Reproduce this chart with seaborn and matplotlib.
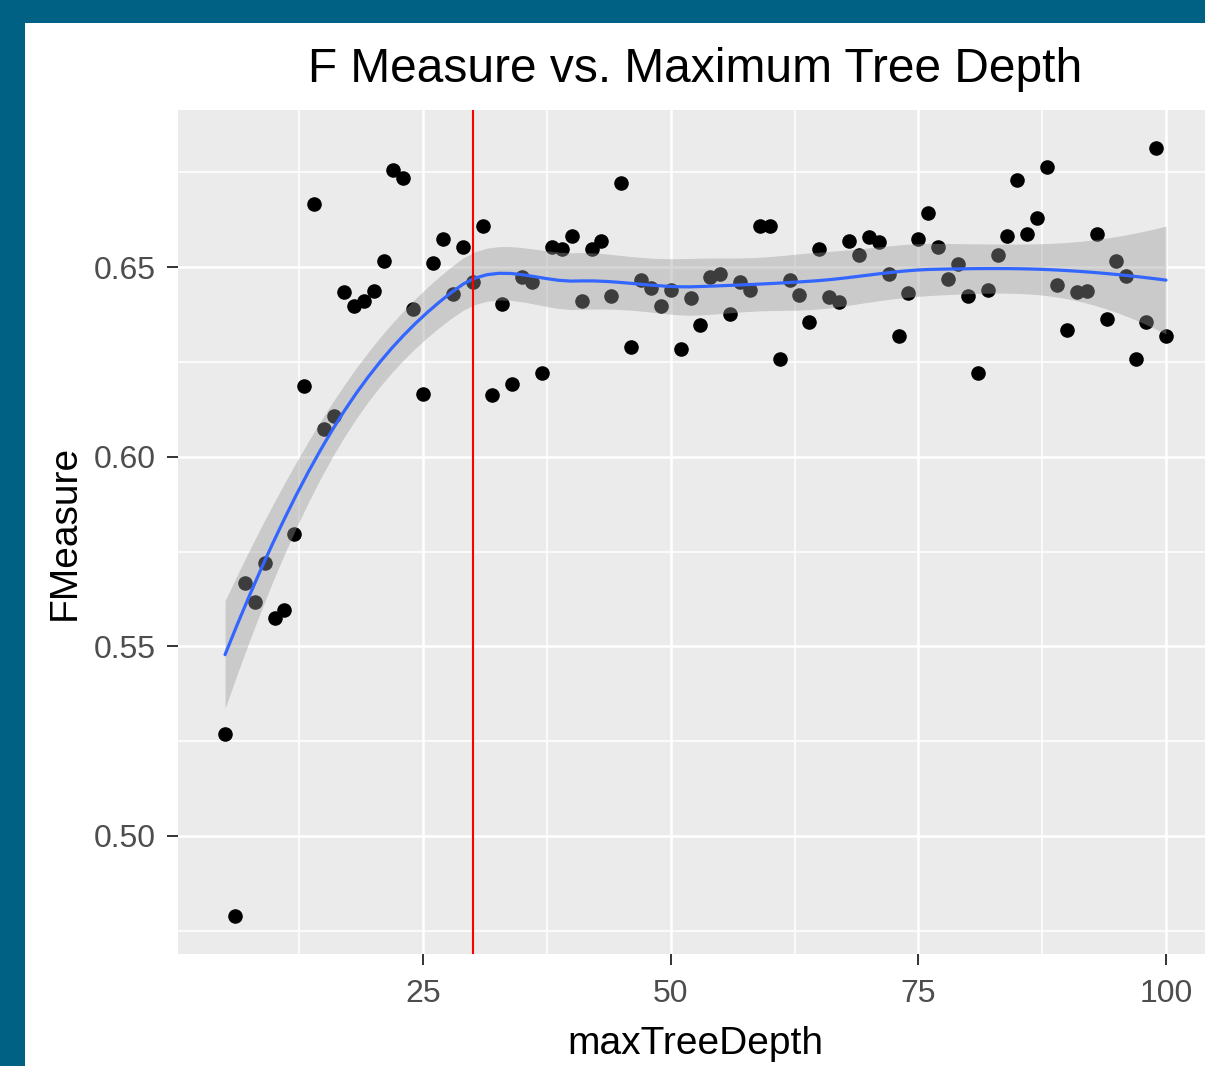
import numpy as np
import matplotlib
matplotlib.use("Agg")
import matplotlib.pyplot as plt
import seaborn as sns

# one random forest run per max depth
max_tree_depth = list(range(5, 101))
f_measure = [
    0.527, 0.479, 0.5666, 0.5616, 0.572, 0.5574, 0.5595, 0.5797, 0.6187, 0.6666,
    0.6074, 0.6108, 0.6434, 0.6397, 0.641, 0.6437, 0.6516, 0.6755, 0.6734, 0.639,
    0.6166, 0.651, 0.6574, 0.6429, 0.6553, 0.646, 0.6608, 0.6163, 0.6403, 0.6192,
    0.6474, 0.646, 0.6221, 0.6553, 0.6547, 0.6582, 0.641, 0.6547, 0.657, 0.6424,
    0.6721, 0.6289, 0.6466, 0.6445, 0.6397, 0.6439, 0.6284, 0.6418, 0.6347, 0.6474,
    0.6482, 0.6376, 0.646, 0.6439, 0.6608, 0.6608, 0.6258, 0.6466, 0.6426, 0.6355,
    0.6547, 0.6421, 0.6408, 0.6568, 0.6532, 0.6579, 0.6566, 0.6482, 0.6318, 0.6432,
    0.6574, 0.6642, 0.6553, 0.6468, 0.6508, 0.6424, 0.6221, 0.6439, 0.6532, 0.6582,
    0.6729, 0.6587, 0.6629, 0.6763, 0.6453, 0.6334, 0.6434, 0.6437, 0.6587, 0.6363,
    0.6516, 0.6476, 0.6258, 0.6355, 0.6813, 0.6318,
]
chosen_depth = 30

x_major = [25, 50, 75, 100]
y_major = [0.50, 0.55, 0.60, 0.65]
y_tick_labels = ["0.50", "0.55", "0.60", "0.65"]


def local_quad(x, x0, q):
    # value and slope operators of a tricube-weighted local quadratic at x0
    d = np.abs(x - x0)
    h = np.sort(d)[q - 1]
    w = np.clip(1 - (d / h) ** 3, 0, None) ** 3
    X = np.column_stack([np.ones(len(x)), x - x0, (x - x0) ** 2])
    XtW = X.T * w
    B = np.linalg.solve(XtW @ X, XtW)
    return B[0], B[1]


def kd_vertices(x, fc):
    # split cells at the median until they hold <= fc points (R loess kd tree)
    xs = np.sort(x)
    margin = 0.005 * (xs[-1] - xs[0])
    verts = {xs[0] - margin, xs[-1] + margin}

    def split(pts):
        if len(pts) <= fc:
            return
        m = len(pts) // 2
        v = (pts[m - 1] + pts[m]) / 2 if len(pts) % 2 == 0 else pts[m]
        verts.add(v)
        split(pts[pts <= v])
        split(pts[pts > v])

    split(xs)
    return np.array(sorted(verts))


def loess_operator(x, grid, span=0.75, cell=0.2):
    # loess with surface="interpolate": cubic Hermite between kd-tree vertices
    n = len(x)
    q = int(np.floor(n * span))
    verts = kd_vertices(x, int(np.floor(n * span * cell)))
    vals, slopes = zip(*[local_quad(x, v, q) for v in verts])
    vals, slopes = np.array(vals), np.array(slopes)
    rows = []
    for g in grid:
        k = min(np.searchsorted(verts, g, side="right") - 1, len(verts) - 2)
        h = verts[k + 1] - verts[k]
        t = (g - verts[k]) / h
        h00 = 2 * t ** 3 - 3 * t ** 2 + 1
        h10 = t ** 3 - 2 * t ** 2 + t
        h01 = -2 * t ** 3 + 3 * t ** 2
        h11 = t ** 3 - t ** 2
        rows.append(h00 * vals[k] + h10 * h * slopes[k] + h01 * vals[k + 1] + h11 * h * slopes[k + 1])
    return np.array(rows)


x = np.array(max_tree_depth, dtype=float)
y = np.array(f_measure)
grid = np.linspace(x.min(), x.max(), 80)

L_fit = loess_operator(x, x)
L_grid = loess_operator(x, grid)
y_smooth = L_grid @ y
resid = y - L_fit @ y
M = (np.eye(len(x)) - L_fit).T @ (np.eye(len(x)) - L_fit)
one_delta = np.trace(M)
two_delta = np.trace(M @ M)
s = np.sqrt(np.sum(resid ** 2) / one_delta)
se = s * np.sqrt(np.sum(L_grid ** 2, axis=1))
df = one_delta ** 2 / two_delta
z = 1.959964
t_q = z + (z ** 3 + z) / (4 * df) + (5 * z ** 5 + 16 * z ** 3 + 3 * z) / (96 * df ** 2)
lower = y_smooth - t_q * se
upper = y_smooth + t_q * se

sns.set_theme(style="darkgrid", rc={
    "axes.facecolor": "#EBEBEB",
    "grid.color": "white",
})
plt.rcParams["font.family"] = ["Liberation Sans", "DejaVu Sans"]

fig = plt.figure(figsize=(12.05, 10.66), dpi=100, facecolor="#006185")
# white card inside the dark frame
fig.patches.append(plt.Rectangle((25 / 1205, 0), 1, 1 - 23 / 1066, transform=fig.transFigure,
                                 facecolor="white", edgecolor="none", zorder=-5))

ax = fig.add_axes([178 / 1205, 112 / 1066, 1035 / 1205, 844 / 1066])

sns.scatterplot(x=max_tree_depth, y=f_measure, color="black", s=110, linewidth=0, ax=ax, zorder=3)
ax.fill_between(grid, lower, upper, color="#999999", alpha=0.4, linewidth=0, zorder=4)
sns.lineplot(x=grid, y=y_smooth, color="#3366FF", linewidth=2.3, ax=ax, zorder=5)
ax.axvline(chosen_depth, color="red", linewidth=1.5, zorder=6)

# ggplot-style 5% expansion
x_pad = 0.05 * (x.max() - x.min())
y_lo = min(y.min(), lower.min())
y_hi = max(y.max(), upper.max())
y_pad = 0.05 * (y_hi - y_lo)
ax.set_xlim(x.min() - x_pad, x.max() + x_pad)
ax.set_ylim(y_lo - y_pad, y_hi + y_pad)

ax.set_xticks(x_major)
ax.set_xticks([12.5, 37.5, 62.5, 87.5], minor=True)
ax.set_yticks(y_major)
ax.set_yticklabels(y_tick_labels)
ax.set_yticks([0.475, 0.525, 0.575, 0.625, 0.675], minor=True)
ax.grid(True, which="major", color="white", linewidth=1.8)
ax.grid(True, which="minor", color="white", linewidth=1.1)
for sp in ax.spines.values():
    sp.set_visible(False)
ax.tick_params(which="major", length=8, width=1.4, color="#333333", labelcolor="#4D4D4D",
               labelsize=23, bottom=True, left=True)
ax.tick_params(axis="y", pad=8)
ax.tick_params(axis="x", pad=10)
ax.tick_params(which="minor", length=0)

ax.set_title("F Measure vs. Maximum Tree Depth", fontsize=34.5, pad=20, color="black")
ax.set_xlabel("maxTreeDepth", fontsize=28, labelpad=12, color="black")
ax.set_ylabel("FMeasure", fontsize=28, labelpad=8, color="black")

fig.savefig("out.png", dpi=100, facecolor=fig.get_facecolor())
